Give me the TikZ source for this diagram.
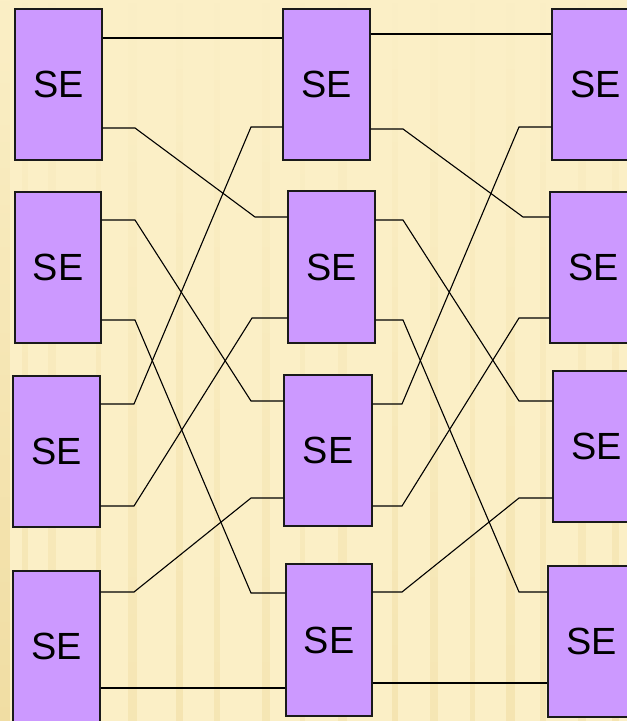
\documentclass[tikz,border=0pt]{standalone}
\usepackage{fontspec}
\setmainfont{Liberation Sans}
\usetikzlibrary{fadings}
\definecolor{paper}{HTML}{FBEFC6}
\definecolor{streak}{HTML}{EAD28C}
\definecolor{sefill}{HTML}{CC99FF}
\definecolor{seline}{HTML}{1A1A1A}
\tikzset{
  sebox/.style={draw=seline, line width=1.2bp, fill=sefill, inner sep=0pt,
    minimum width=87bp, minimum height=151bp, font=\fontsize{38}{38}\selectfont,
    text depth=-3bp},
  wire/.style={draw=black, line width=1.1bp, line join=miter}
}
\begin{document}
\begin{tikzpicture}[x=1bp,y=-1bp]
  \useasboundingbox (0,0) rectangle (627,721);
  \clip (0,0) rectangle (627,721);
  % paper background with soft vertical streaks
  \fill[paper] (0,0) rectangle (627,721);
  \foreach \sx/\sw/\so in {0/10/0.6, 22/6/0.35, 48/8/0.3, 96/5/0.35, 128/9/0.3,
      176/7/0.35, 214/6/0.3, 262/8/0.3, 300/5/0.25, 338/9/0.3, 392/6/0.35,
      430/8/0.3, 470/5/0.3, 506/9/0.35, 540/6/0.3, 578/8/0.3, 612/7/0.35} {
    \fill[streak, opacity=\so, path fading=north] (\sx,0) rectangle ++(\sw,721);
  }

  % first stage
  \node[sebox] (a1) at (58.5,84.5) {SE};
  \node[sebox, minimum width=86bp] (a2) at (58,267.5) {SE};
  \node[sebox] (a3) at (56.5,451.5) {SE};
  \node[sebox] (a4) at (56.5,646.5) {SE};
  % second stage
  \node[sebox] (b1) at (326.5,84.5) {SE};
  \node[sebox, minimum height=152bp] (b2) at (331.5,267) {SE};
  \node[sebox, minimum width=88bp] (b3) at (328,450.5) {SE};
  \node[sebox, minimum width=86bp, minimum height=152bp] (b4) at (329,640) {SE};
  % third stage
  \node[sebox] (c1) at (595.5,84.5) {SE};
  \node[sebox] (c2) at (593.5,267.5) {SE};
  \node[sebox] (c3) at (596.5,446.5) {SE};
  \node[sebox] (c4) at (591.5,641.5) {SE};

  % shuffle links, stage 1 -> stage 2
  \draw[wire] (a1.east |- 0,38)  -- (b1.west |- 0,38);
  \draw[wire] (a1.east |- 0,128) -- (135,128) -- (255,217) -- (b2.west |- 0,217);
  \draw[wire] (a2.east |- 0,220) -- (135,220) -- (251,401) -- (b3.west |- 0,401);
  \draw[wire] (a2.east |- 0,320) -- (135,320) -- (251,593) -- (b4.west |- 0,593);
  \draw[wire] (a3.east |- 0,404) -- (134,404) -- (251,127) -- (b1.west |- 0,127);
  \draw[wire] (a3.east |- 0,506) -- (134,506) -- (252,318) -- (b2.west |- 0,318);
  \draw[wire] (a4.east |- 0,592) -- (134,592) -- (251,498) -- (b3.west |- 0,498);
  \draw[wire] (a4.east |- 0,688) -- (b4.west |- 0,688);

  % shuffle links, stage 2 -> stage 3
  \draw[wire] (b1.east |- 0,34)  -- (c1.west |- 0,34);
  \draw[wire] (b1.east |- 0,129) -- (403,129) -- (523,217) -- (c2.west |- 0,217);
  \draw[wire] (b2.east |- 0,220) -- (403,220) -- (519,401) -- (c3.west |- 0,401);
  \draw[wire] (b2.east |- 0,320) -- (403,320) -- (519,592) -- (c4.west |- 0,592);
  \draw[wire] (b3.east |- 0,404) -- (402,404) -- (519,127) -- (c1.west |- 0,127);
  \draw[wire] (b3.east |- 0,506) -- (402,506) -- (519,318) -- (c2.west |- 0,318);
  \draw[wire] (b4.east |- 0,592) -- (402,592) -- (519,498) -- (c3.west |- 0,498);
  \draw[wire] (b4.east |- 0,683) -- (c4.west |- 0,683);
\end{tikzpicture}
\end{document}
